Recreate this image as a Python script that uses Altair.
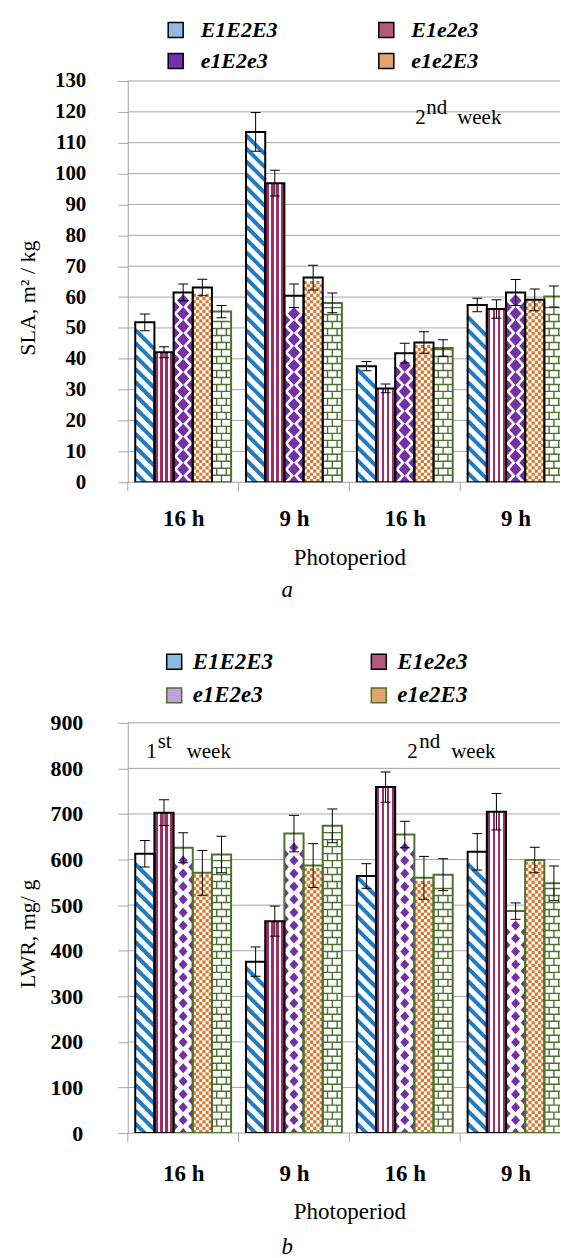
import altair as alt
import pandas as pd

# ---------------- data ----------------
group_ids = ["g1", "g2", "g3", "g4"]
group_labels = ["16 h", "9 h", "16 h", "9 h"]
series = ["E1E2E3", "E1e2e3", "e1E2e3", "e1e2E3", "e1e2e3"]
# legend entries, in the column order the legend fills (col 1 then col 2)
legend_series = ["E1E2E3", "e1E2e3", "E1e2e3", "e1e2E3"]

# panel a: SLA, m2/kg
sla_ticks = [0, 10, 20, 30, 40, 50, 60, 70, 80, 90, 100, 110, 120, 130]
sla_E1E2E3 = [51.8, 113.5, 37.6, 57.4]
sla_E1e2e3 = [42.1, 96.9, 30.4, 56.1]
sla_e1E2e3 = [61.5, 60.4, 41.8, 61.5]
sla_e1e2E3 = [63.1, 66.3, 45.3, 59.1]
sla_e1e2e3 = [55.3, 58.1, 43.5, 60.2]
sla_err_E1E2E3 = [2.7, 6.3, 1.5, 2.2]
sla_err_E1e2e3 = [1.8, 4.2, 1.4, 3.0]
sla_err_e1E2e3 = [2.7, 3.8, 3.2, 4.2]
sla_err_e1e2E3 = [2.7, 4.0, 3.5, 3.5]
sla_err_e1e2e3 = [2.0, 3.2, 2.7, 3.4]

# panel b: LWR, mg/g
lwr_ticks = [0, 100, 200, 300, 400, 500, 600, 700, 800, 900]
lwr_E1E2E3 = [613, 376, 564, 617]
lwr_E1e2e3 = [703, 465, 759, 705]
lwr_e1E2e3 = [626, 657, 655, 487]
lwr_e1e2E3 = [571, 587, 560, 599]
lwr_e1e2e3 = [611, 674, 567, 548]
lwr_err_E1E2E3 = [29, 32, 27, 40]
lwr_err_E1e2e3 = [28, 33, 33, 40]
lwr_err_e1E2e3 = [33, 40, 29, 18]
lwr_err_e1e2E3 = [49, 48, 47, 28]
lwr_err_e1e2e3 = [40, 37, 35, 38]

# week annotations: group, value level, number, superscript
sla_note_gid = ["g3"]
sla_note_y = [116.0]
sla_note_num = ["2"]
sla_note_sup = ["nd"]
lwr_note_gid = ["g1", "g3"]
lwr_note_y = [822.0, 823.0]
lwr_note_num = ["1", "2"]
lwr_note_sup = ["st", "nd"]

# ---------------- style ----------------
FONT = "Liberation Serif, Times New Roman, serif"
BLUE = "#1f7cc4"
MAROON = "#9c2f63"
PURPLE = "#7330a8"
ORANGE = "#d9772f"
GREEN = "#4e7030"
GRID = "#a6a6a6"

STEP = 111.0                 # px per photoperiod group
PLOT_W = 433                 # visible plot width (last group runs past the edge, as in the figure)
X_MAX = PLOT_W / STEP        # visible extent in group units
PAD_O = 0.39
NB = 5 + 2 * PAD_O           # slots per group
BAR_W = STEP / NB
U = BAR_W / 2.0              # px per symbol unit
SYM = BAR_W ** 2

label_expr = "[" + ",".join(f"'{l}'" for l in group_labels) + "][floor(datum.value)]"


def make_df(vals, errs):
    rows = []
    for si, (s, vl, el) in enumerate(zip(series, vals, errs)):
        for gi, (g, v, e) in enumerate(zip(group_ids, vl, el)):
            rows.append({"gid": g, "gi": gi, "series": s, "si": si, "value": v, "err": e})
    return pd.DataFrame(rows)


def fmt(v):
    return f"{v:.5f}"


def panel(df, ymax, ticks, height, cfg):
    upx = height / ymax
    xs = alt.Scale(domain=[0, X_MAX], nice=False, zero=False)
    yscale = alt.Scale(domain=[0, ymax], nice=False, zero=True)

    x_axis = alt.Axis(values=[i + 0.5 for i in range(len(group_ids))], domain=False, ticks=False,
                      grid=False, labelExpr=label_expr, labelAngle=0, labelFlush=False,
                      labelFont=FONT, labelFontWeight="bold", labelFontSize=23, labelColor="black",
                      labelPadding=cfg["xlabpad"], title="Photoperiod", titleFont=FONT,
                      titleFontWeight="normal", titleFontSize=23, titleColor="black",
                      titlePadding=cfg["xtitlepad"], titleX=222)
    y_axis = alt.Axis(values=ticks, grid=False,
                      domain=True, domainColor=GRID, ticks=True, tickColor=GRID, tickSize=10,
                      labelFont=FONT, labelFontWeight="bold", labelFontSize=cfg["ylabsize"],
                      labelColor="black", labelPadding=cfg["ylabpad"], title=cfg["ytitle"],
                      titleFont=FONT, titleFontWeight="normal", titleFontSize=22, titleColor="black",
                      titleX=-100, titleY=cfg["titleY"], titleAlign="center", titleBaseline="middle",
                      titleAngle=270)

    def X(f):
        return alt.X(f + ":Q", scale=xs, axis=x_axis, title="Photoperiod")

    def Y(f):
        return alt.Y(f + ":Q", scale=yscale, axis=y_axis, title=cfg["ytitle"])

    base = alt.Chart(df).transform_calculate(
        x0=f"datum.gi + ({PAD_O} + datum.si) / {fmt(NB)}",
        x1=f"datum.gi + ({PAD_O} + datum.si + 1) / {fmt(NB)}",
        xc=f"datum.gi + ({PAD_O} + datum.si + 0.5) / {fmt(NB)}",
        zero="0")

    def bar_enc():
        return dict(x=X("x0"), x2="x1:Q", y=Y("value"), y2="zero:Q")

    layers = []
    # horizontal gridlines at the tick values, across the plot width
    layers.append(alt.Chart(pd.DataFrame({"tick": ticks})).mark_rule(color=GRID, strokeWidth=1).encode(
        x=alt.value(0), x2=alt.value(PLOT_W), y=Y("tick")))

    # white bar background
    layers.append(base.mark_bar(fill="white", clip=True).encode(**bar_enc()))

    # vertical stripes (E1e2e3)
    cuts = [0, 0.18, 0.30, 0.44, 0.56, 0.70, 0.82, 1.0]
    stops = []
    for i in range(len(cuts) - 1):
        c = MAROON if i % 2 == 0 else "white"
        stops.append(alt.GradientStop(color=c, offset=cuts[i]))
        stops.append(alt.GradientStop(color=c, offset=cuts[i + 1]))
    grad = alt.LinearGradient(gradient="linear", stops=stops, x1=0, x2=1, y1=0, y2=0)
    layers.append(base.transform_filter(alt.datum.series == "E1e2e3")
                  .mark_bar(fill=grad, clip=True).encode(**bar_enc()))

    def pattern(name, path, step_px, top_px, filled, color, sw):
        st = step_px / upx
        top = top_px / upx
        expr = f"sequence({fmt(-st)}, datum.value - {fmt(top)} + 0.000001, {fmt(st)})"
        kw = dict(shape=path, size=SYM, opacity=1, clip=True, filled=filled)
        if filled:
            kw.update(fill=color, strokeWidth=0)
        else:
            kw.update(stroke=color, strokeWidth=sw, fillOpacity=0)
        return (base.transform_filter(alt.datum.series == name)
                .transform_calculate(ys=expr).transform_flatten(["ys"])
                .mark_point(**kw).encode(x=X("xc"), y=Y("ys")))

    # diagonal stripes (E1E2E3)
    layers.append(pattern("E1E2E3", "M-1,-1L1,1", 13, U, False, BLUE, 4))

    # diamonds (e1E2e3)
    a_px, b_px, ds = cfg["diamond"]
    a, b, h = a_px / U, b_px / U, ds / 2 / U
    dpath = (f"M0,{fmt(-a)}L{fmt(b)},0L0,{fmt(a)}L{fmt(-b)},0Z"
             f"M-1,{fmt(h - a)}L{fmt(-1 + b)},{fmt(h)}L-1,{fmt(h + a)}Z"
             f"M1,{fmt(h - a)}L{fmt(1 - b)},{fmt(h)}L1,{fmt(h + a)}Z")
    layers.append(pattern("e1E2e3", dpath, ds, a_px, True, PURPLE, 0))

    # checks (e1e2E3)
    c = 1.0 / 3.0
    parts = []
    for xi in [-1, -1 / 3, 1 / 3]:
        parts.append(f"M{fmt(xi)},{fmt(-c)}h{fmt(c)}v{fmt(c)}h{fmt(-c)}Z")
    for xi in [-2 / 3, 0, 2 / 3]:
        parts.append(f"M{fmt(xi)},0h{fmt(c)}v{fmt(c)}h{fmt(-c)}Z")
    layers.append(pattern("e1e2E3", "".join(parts), 2 * c * U, c * U, True, ORANGE, 0))

    # bricks (e1e2e3)
    hb_px = 7.0
    hb = hb_px / U
    bpath = (f"M-1,{fmt(-hb)}H1M0,{fmt(-hb)}V0M-1,0H1M-0.5,0V{fmt(hb)}M0.5,0V{fmt(hb)}")
    layers.append(pattern("e1e2e3", bpath, 2 * hb_px, hb_px, False, GREEN, 1.4))

    # outlines
    for col in sorted(set(cfg["outline"])):
        names = [s for s, c2 in zip(series, cfg["outline"]) if c2 == col]
        layers.append(base.transform_filter(alt.FieldOneOfPredicate(field="series", oneOf=names))
                      .mark_bar(fillOpacity=0, stroke=col, strokeWidth=2, clip=True)
                      .encode(**bar_enc()))

    # error bars
    eb = base.transform_calculate(lo="datum.value - datum.err", hi="datum.value + datum.err")
    layers.append(eb.mark_rule(color="black", strokeWidth=1, clip=True).encode(
        x=X("xc"), y=Y("lo"), y2="hi:Q"))
    layers.append(eb.transform_fold(["lo", "hi"], as_=["k", "v"]).mark_tick(
        color="black", thickness=1, size=10, opacity=1, clip=True, orient="horizontal").encode(
        x=X("xc"), y=Y("v")))

    # group boundary ticks below the axis
    layers.append(alt.Chart(pd.DataFrame({"gi": list(range(len(group_ids)))})).mark_rule(
        color=GRID, strokeWidth=1).encode(x=X("gi"), y=alt.value(height), y2=alt.value(height + 9)))

    # week annotations
    for i, (g, yv, num, sup) in enumerate(zip(cfg["ngid"], cfg["ny"], cfg["nnum"], cfg["nsup"])):
        d0, d1, d2 = cfg["ndx"][i]
        ndf = pd.DataFrame({"gi": [group_ids.index(g)], "y": [yv], "num": [num], "sup": [sup],
                            "wk": ["week"]})
        nb = alt.Chart(ndf).transform_calculate(xc="datum.gi + 0.5")
        common = dict(font=FONT, fontSize=21, color="black", align="left", baseline="alphabetic")
        layers.append(nb.mark_text(dx=d0, **common).encode(x=X("xc"), y=Y("y"), text="num:N"))
        layers.append(nb.mark_text(dx=d1, dy=-10, **common).encode(x=X("xc"), y=Y("y"), text="sup:N"))
        layers.append(nb.mark_text(dx=d2, **common).encode(x=X("xc"), y=Y("y"), text="wk:N"))

    # legend carrier
    leg = alt.Legend(title=None, orient="none", legendX=cfg["lx"], legendY=cfg["ly"], columns=2,
                     symbolType="square", symbolSize=225, symbolStrokeWidth=1.5,
                     labelFont=FONT, labelFontSize=cfg["legsize"], labelFontStyle="italic",
                     labelFontWeight="bold", labelColor="black", labelOffset=cfg["loff"],
                     columnPadding=cfg["cpad"], rowPadding=cfg["rpad"], padding=0)
    layers.append(base.transform_filter("false").mark_point(shape="square", filled=True, opacity=1).encode(
        x=X("xc"), y=Y("value"),
        fill=alt.Fill("series:N", scale=alt.Scale(domain=legend_series, range=cfg["lfill"]), legend=leg),
        stroke=alt.Stroke("series:N", scale=alt.Scale(domain=legend_series, range=cfg["lstroke"]), legend=leg)))

    return alt.layer(*layers).properties(
        width=PLOT_W, height=height,
        title=alt.TitleParams(cfg["caption"], orient="bottom", anchor="start", frame="group", dx=154,
                              font=FONT, fontSize=23, fontStyle="italic", fontWeight="normal",
                              color="black", offset=cfg["capoff"]))


sla_df = make_df([sla_E1E2E3, sla_E1e2e3, sla_e1E2e3, sla_e1e2E3, sla_e1e2e3],
                 [sla_err_E1E2E3, sla_err_E1e2e3, sla_err_e1E2e3, sla_err_e1e2E3, sla_err_e1e2e3])
lwr_df = make_df([lwr_E1E2E3, lwr_E1e2e3, lwr_e1E2e3, lwr_e1e2E3, lwr_e1e2e3],
                 [lwr_err_E1E2E3, lwr_err_E1e2e3, lwr_err_e1E2e3, lwr_err_e1e2E3, lwr_err_e1e2e3])

top_cfg = dict(
    ytitle="SLA, m² / kg", titleY=217, ylabsize=21, ylabpad=32, xlabpad=25, xtitlepad=16,
    diamond=(6.5, 6.0, 13.0), outline=["black", "black", "black", "black", GREEN],
    ngid=sla_note_gid, ny=sla_note_y, nnum=sla_note_num, nsup=sla_note_sup,
    ndx=[(10.5, 21.5, 52.5)],
    lx=37, ly=-62, legsize=22, loff=14, cpad=97, rpad=9,
    lfill=["#8fbbe3", PURPLE, "#b4587f", "#e3a36e"], lstroke=["black", "black", "black", "black"],
    caption="a", capoff=10)
bot_cfg = dict(
    ytitle="LWR, mg/ g", titleY=211, ylabsize=22, ylabpad=35, xlabpad=29, xtitlepad=16,
    diamond=(5.0, 4.5, 13.0), outline=["black", "black", GREEN, GREEN, GREEN],
    ngid=lwr_note_gid, ny=lwr_note_y, nnum=lwr_note_num, nsup=lwr_note_sup,
    ndx=[(-37.0, -25.5, 3.5), (2.5, 14.5, 46.5)],
    lx=35, ly=-73, legsize=23, loff=7, cpad=94, rpad=10,
    lfill=["#8fbbe3", "#c2a0dc", "#b4587f", "#e3a36e"], lstroke=["black", GREEN, "black", GREEN],
    caption="b", capoff=12)

top = panel(sla_df, 130, sla_ticks, 402, top_cfg)
bottom = panel(lwr_df, 900, lwr_ticks, 411, bot_cfg)

chart = (alt.vconcat(top, bottom, spacing=48)
         .resolve_scale(fill="independent", stroke="independent")
         .resolve_legend(fill="independent", stroke="independent")
         .properties(padding={"left": 17, "top": 18, "right": 0, "bottom": 0}, background="white")
         .configure_view(stroke=None))

chart.save("out.html", embed_options={"renderer": "svg", "actions": False})
